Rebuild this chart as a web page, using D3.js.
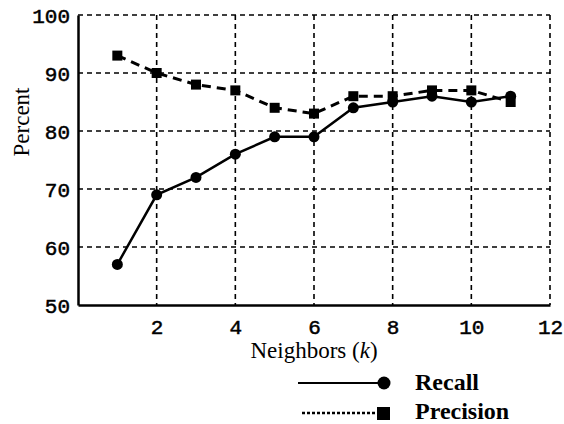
<!DOCTYPE html>
<html>
<head>
<meta charset="utf-8">
<script src="https://cdn.jsdelivr.net/npm/d3@7"></script>
<style>
  body { margin: 0; background: #fff; }
</style>
</head>
<body>
<div id="chart"></div>
<script>
// Data
const neighbors = [1, 2, 3, 4, 5, 6, 7, 8, 9, 10, 11];
const recall = [57, 69, 72, 76, 79, 79, 84, 85, 86, 85, 86];
const precision = [93, 90, 88, 87, 84, 83, 86, 86, 87, 87, 85];
const xTicks = [2, 4, 6, 8, 10, 12];
const yTicks = [50, 60, 70, 80, 90, 100];

const width = 564, height = 424;
const margin = { left: 78, right: 14, top: 15, bottom: 119 };

const svg = d3.select("#chart")
    .append("svg")
    .attr("width", width)
    .attr("height", height);

const x = d3.scaleLinear().domain([0, 12]).range([margin.left, width - margin.right]);
const y = d3.scaleLinear().domain([50, 100]).range([height - margin.bottom, margin.top]);

// Dashed grid
const grid = svg.append("g")
    .attr("stroke", "#000")
    .attr("stroke-width", 1.6)
    .attr("stroke-dasharray", "5,4");

grid.selectAll(".vg")
    .data(xTicks)
    .join("line")
    .attr("x1", d => x(d)).attr("x2", d => x(d))
    .attr("y1", y(100)).attr("y2", y(50));

grid.selectAll(".hg")
    .data(yTicks.filter(d => d > 50))
    .join("line")
    .attr("x1", x(0)).attr("x2", x(12))
    .attr("y1", d => y(d)).attr("y2", d => y(d));

// Axes
const xAxis = svg.append("g")
    .attr("transform", `translate(0,${y(50)})`)
    .call(d3.axisBottom(x).tickValues(xTicks).tickSize(0).tickPadding(10));
const yAxis = svg.append("g")
    .attr("transform", `translate(${x(0)},0)`)
    .call(d3.axisLeft(y).tickValues(yTicks).tickSize(0).tickPadding(8));

[xAxis, yAxis].forEach(a => {
    a.select(".domain").attr("stroke", "#000").attr("stroke-width", 2.5);
    a.selectAll("text")
        .attr("fill", "#000")
        .attr("stroke", "#000")
        .attr("stroke-width", 0.5)
        .style("font-family", "'Liberation Mono', 'Courier New', monospace")
        .style("font-size", "21px");
});
xAxis.selectAll("text").attr("dy", "0.9em");
yAxis.selectAll("text").attr("dy", "0.36em");

// Lines
const line = (vals) => d3.line()
    .x((d, i) => x(neighbors[i]))
    .y(d => y(d))(vals);

svg.append("path")
    .attr("d", line(precision))
    .attr("fill", "none")
    .attr("stroke", "#000")
    .attr("stroke-width", 3)
    .attr("stroke-dasharray", "9,6");

svg.append("path")
    .attr("d", line(recall))
    .attr("fill", "none")
    .attr("stroke", "#000")
    .attr("stroke-width", 2.5);

// Markers
svg.selectAll(".sq")
    .data(precision)
    .join("rect")
    .attr("x", (d, i) => x(neighbors[i]) - 5)
    .attr("y", d => y(d) - 5)
    .attr("width", 10)
    .attr("height", 10)
    .attr("fill", "#000");

svg.selectAll(".ci")
    .data(recall)
    .join("circle")
    .attr("cx", (d, i) => x(neighbors[i]))
    .attr("cy", d => y(d))
    .attr("r", 5.5)
    .attr("fill", "#000");

// Axis titles
const serif = "'Liberation Serif', 'Times New Roman', serif";
svg.append("text")
    .attr("x", 314).attr("y", 358)
    .attr("text-anchor", "middle")
    .style("font-family", serif)
    .style("font-size", "23px")
    .html("Neighbors (<tspan font-style='italic'>k</tspan>)");

svg.append("text")
    .attr("transform", "translate(29,122) rotate(-90)")
    .attr("text-anchor", "middle")
    .style("font-family", serif)
    .style("font-size", "23px")
    .text("Percent");

// Legend
const legend = svg.append("g");
legend.append("line")
    .attr("x1", 298).attr("x2", 382).attr("y1", 383).attr("y2", 383)
    .attr("stroke", "#000").attr("stroke-width", 1.8);
legend.append("circle").attr("cx", 384).attr("cy", 383).attr("r", 6.5).attr("fill", "#000");
legend.append("line")
    .attr("x1", 302).attr("x2", 380).attr("y1", 413).attr("y2", 413)
    .attr("stroke", "#000").attr("stroke-width", 2.5).attr("stroke-dasharray", "3,2");
legend.append("rect").attr("x", 377).attr("y", 407).attr("width", 13).attr("height", 13).attr("fill", "#000");

legend.append("text").attr("x", 415).attr("y", 390)
    .style("font-family", serif).style("font-size", "24px").style("font-weight", "bold")
    .text("Recall");
legend.append("text").attr("x", 415).attr("y", 419)
    .style("font-family", serif).style("font-size", "24px").style("font-weight", "bold")
    .text("Precision");
</script>
</body>
</html>
